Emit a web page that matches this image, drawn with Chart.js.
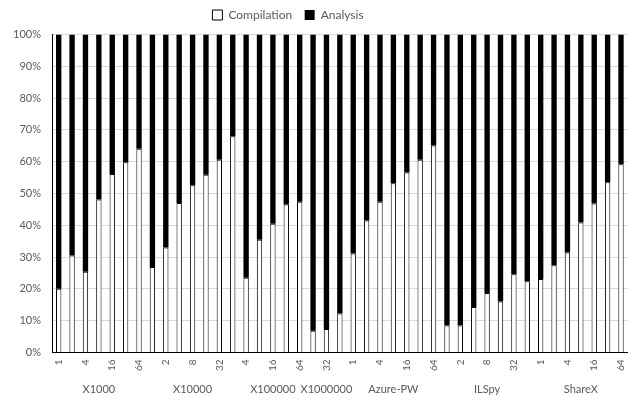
<!DOCTYPE html>
<html>
<head>
<meta charset="utf-8">
<script src="https://cdn.jsdelivr.net/npm/chart.js@4"></script>
<style>
  html, body { margin: 0; padding: 0; background: #fff; overflow: hidden; }
  #chart-container { width: 636px; height: 396px; overflow: hidden; }
</style>
</head>
<body>
<div id="chart-container"><canvas id="chart" width="640" height="396"></canvas></div>
<script>
// thread counts per run, grouped by benchmark
const tickLabels = [
  '1', '2', '4', '8', '16', '32', '64',        // X1000
  '1', '2', '4', '8', '16', '32', '64',        // X10000
  '4', '8', '16', '32', '64',                  // X100000
  '16', '32', '64',                            // X1000000
  '1', '2', '4', '8', '16', '32', '64',        // Azure-PW
  '1', '2', '4', '8', '16', '32', '64',        // ILSpy
  '1', '2', '4', '8', '16', '32', '64'         // ShareX
];
const groupNames = ['X1000', 'X10000', 'X100000', 'X1000000', 'Azure-PW', 'ILSpy', 'ShareX'];
const groupSizes = [7, 7, 5, 3, 7, 7, 7];

// share of total time (%)
const compilation = [
  20, 30.5, 25.4, 48.1, 56.1, 59.8, 64.1,
  26.9, 33, 47, 52.6, 55.9, 60.6, 68,
  23.5, 35.4, 40.5, 46.5, 47.4,
  6.8, 7.4, 12.2,
  31.1, 41.5, 47.4, 53.2, 56.6, 60.6, 65.1,
  8.5, 8.5, 14.3, 18.7, 16, 24.6, 22.4,
  23.1, 27.4, 31.4, 40.9, 46.8, 53.5, 59.2
];
const analysis = [
  80, 69.5, 74.6, 51.9, 43.9, 40.2, 35.9,
  73.1, 67, 53, 47.4, 44.1, 39.4, 32,
  76.5, 64.6, 59.5, 53.5, 52.6,
  93.2, 92.6, 87.8,
  68.9, 58.5, 52.6, 46.8, 43.4, 39.4, 34.9,
  91.5, 91.5, 85.7, 81.3, 84, 75.4, 77.6,
  76.9, 72.6, 68.6, 59.1, 53.2, 46.5, 40.8
];

const FONT = 'Lato, "Liberation Sans", sans-serif';
const TEXT = '#595959';

// second row of x labels: benchmark names under each group
const groupLabels = {
  id: 'groupLabels',
  afterDraw(chart) {
    const x = chart.scales.x;
    const ctx = chart.ctx;
    ctx.save();
    ctx.font = '11px ' + FONT;
    ctx.fillStyle = TEXT;
    ctx.textAlign = 'center';
    ctx.textBaseline = 'middle';
    let start = 0;
    groupNames.forEach((name, i) => {
      const end = start + groupSizes[i] - 1;
      const cx = (x.getPixelForValue(start) + x.getPixelForValue(end)) / 2;
      ctx.fillText(name, cx, chart.chartArea.bottom + 37);
      start = end + 1;
    });
    ctx.restore();
  }
};

// legend sits a bit left of centre and a little higher in the original
const legendShift = {
  id: 'legendShift',
  afterLayout(chart) {
    chart.legend.left -= 32;
    chart.legend.right -= 32;
    chart.legend.top -= 3.5;
    chart.legend.bottom -= 3.5;
  }
};

new Chart(document.getElementById('chart'), {
  type: 'bar',
  data: {
    labels: tickLabels,
    datasets: [{
      label: 'Compilation',
      data: compilation,
      backgroundColor: '#ffffff',
      borderColor: '#000000',
      borderWidth: 1
    }, {
      label: 'Analysis',
      data: analysis,
      backgroundColor: '#000000',
      borderColor: '#000000',
      borderWidth: 0
    }]
  },
  options: {
    responsive: false,
    animation: false,
    layout: { padding: { left: 0, right: 0, top: 0, bottom: 18 } },
    datasets: { bar: { barPercentage: 0.4, categoryPercentage: 1 } },
    plugins: {
      tooltip: { enabled: false },
      legend: {
        position: 'top',
        labels: {
          boxWidth: 10,
          boxHeight: 10,
          padding: 12.5,
          color: TEXT,
          font: { family: FONT, size: 12 }
        }
      }
    },
    scales: {
      x: {
        stacked: true,
        grid: { display: false, drawTicks: false },
        border: { display: true, color: '#000', width: 1 },
        ticks: {
          autoSkip: false,
          minRotation: 90,
          maxRotation: 90,
          padding: 7,
          color: TEXT,
          font: { family: FONT, size: 10 },
          callback: (v, i) => (i % 2 === 0 ? tickLabels[i] : '')
        }
      },
      y: {
        stacked: true,
        min: 0,
        max: 100,
        afterFit: (scale) => { scale.width = 52; },
        grid: { color: '#d9d9d9', drawTicks: false },
        border: { display: true, color: '#000', width: 1 },
        ticks: {
          stepSize: 10,
          padding: 11,
          color: TEXT,
          font: { family: FONT, size: 11 },
          callback: (v) => v + '%'
        }
      }
    }
  },
  plugins: [groupLabels, legendShift]
});
</script>
</body>
</html>
